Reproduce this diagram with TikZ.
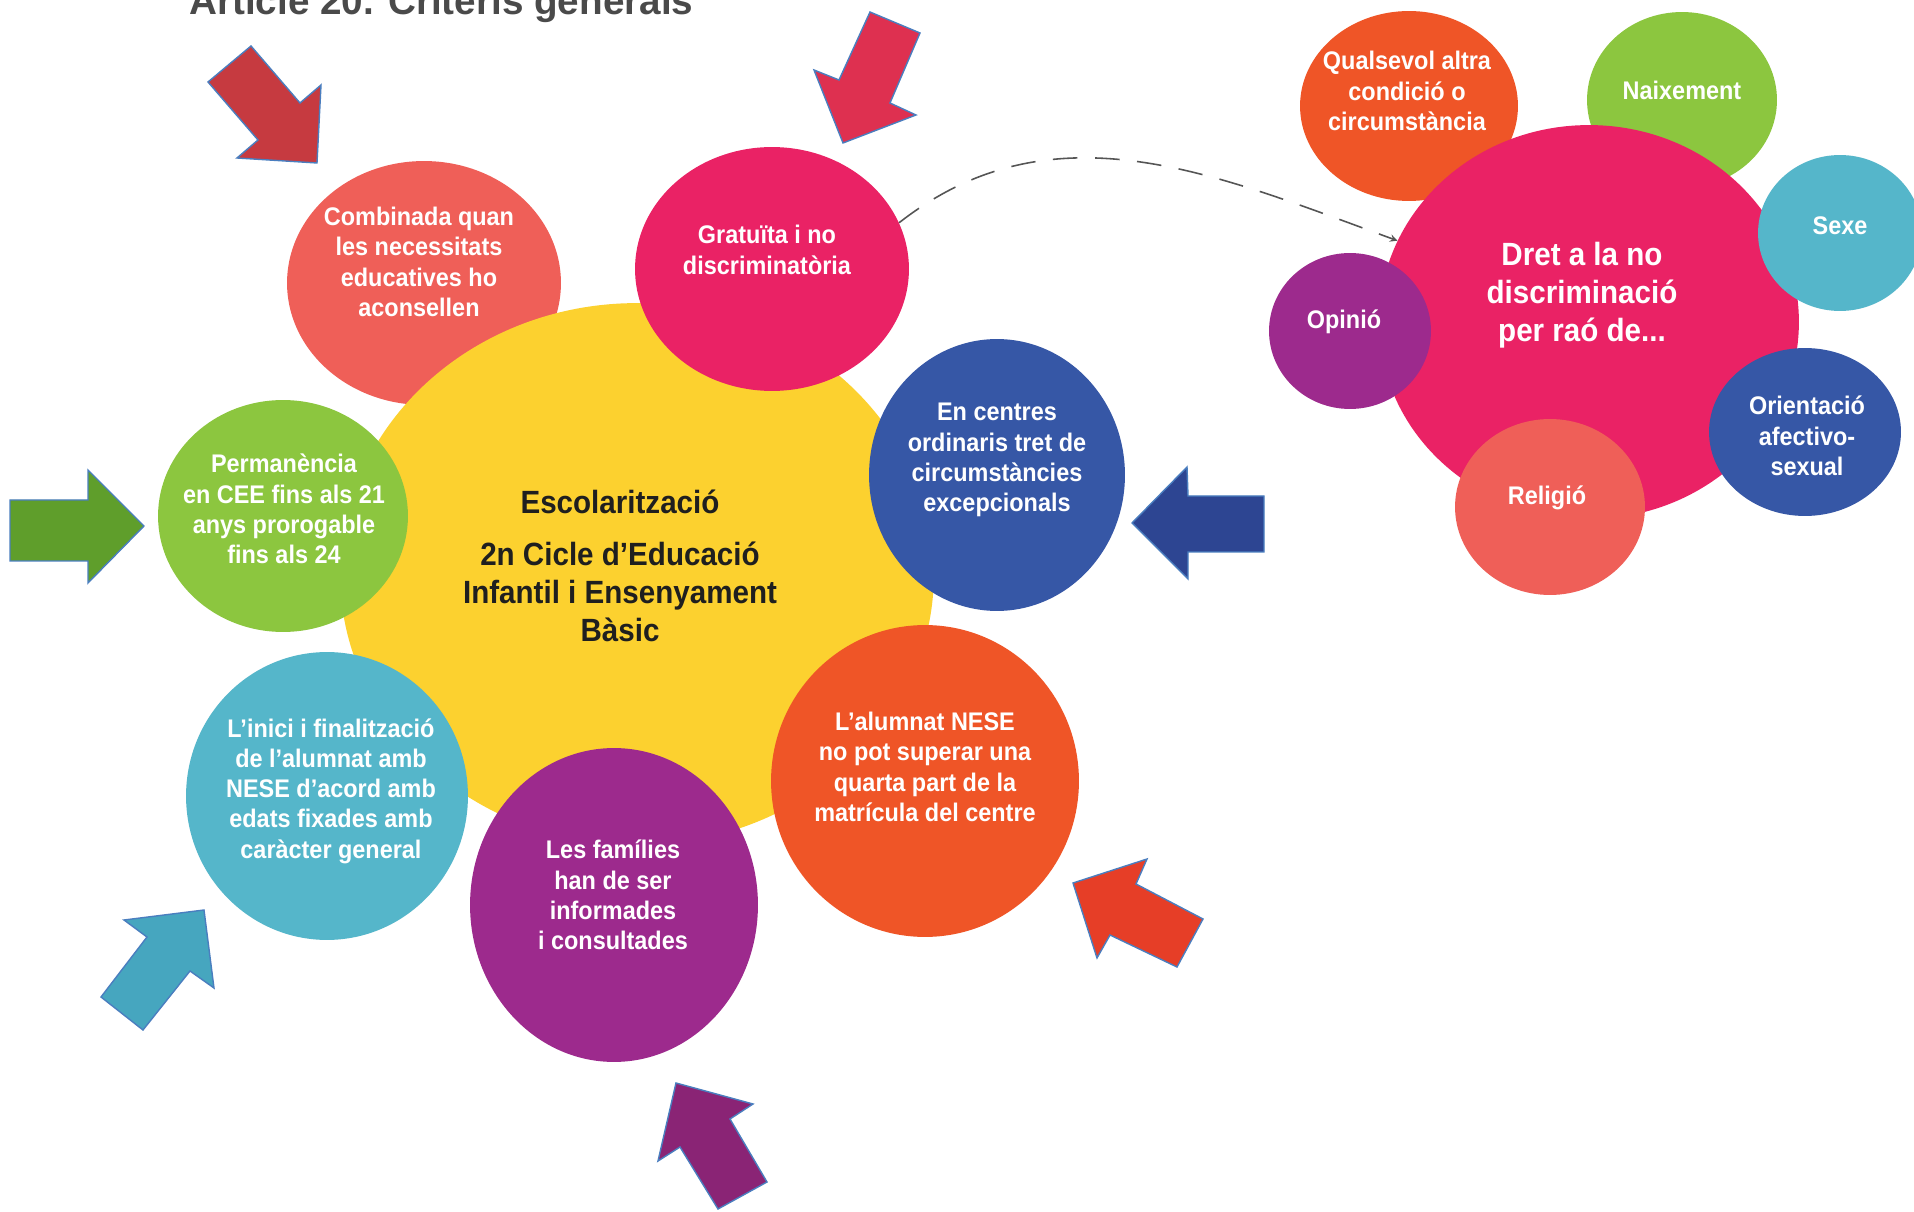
\documentclass[tikz,border=0pt]{standalone}
\usepackage{fontspec}
\setmainfont{Liberation Sans}[FakeStretch=0.92]
\newfontfamily\titlefont{Liberation Sans}
\usepackage{tikz}
\usetikzlibrary{arrows,shapes.geometric,positioning}

\definecolor{cyellow}{HTML}{FCD12F}
\definecolor{csalmon}{HTML}{EF5F58}
\definecolor{cpink}{HTML}{EA2265}
\definecolor{cblue}{HTML}{3657A6}
\definecolor{cgreen}{HTML}{8CC63F}
\definecolor{cteal}{HTML}{55B6CA}
\definecolor{cpurple}{HTML}{9D2A8D}
\definecolor{corange}{HTML}{EF5527}
\definecolor{ctitle}{HTML}{4A4A4A}
\definecolor{cdash}{HTML}{555555}
\definecolor{ared}{HTML}{C63A40}
\definecolor{arose}{HTML}{DE3050}
\definecolor{anavy}{HTML}{2D4592}
\definecolor{agreen}{HTML}{5F9E2B}
\definecolor{ateal}{HTML}{46A6BF}
\definecolor{aorange}{HTML}{E63E27}
\definecolor{aplum}{HTML}{8A2475}
\definecolor{aedge}{HTML}{4A7EBF}

\begin{document}
\begin{tikzpicture}[x=0.02cm,y=-0.02cm,
  blob/.style args={#1/#2/#3}{ellipse,fill=#1,inner sep=0pt,minimum width=#2*0.04cm,minimum height=#3*0.04cm},
  btext/.style={text=white,align=center,font=\bfseries\fontsize{14.5}{17.2}\selectfont},
  bigtext/.style={align=center,font=\bfseries\fontsize{18.3}{21.5}\selectfont},
  bigarrow/.style={fill=#1,draw=aedge,line width=0.8pt,line join=miter},
  dashlink/.style={draw=cdash,line width=0.9pt,dash pattern=on 14pt off 10pt}]

\useasboundingbox (0,0) rectangle (1914,1212);
\fill[white] (0,0) rectangle (1914,1212);

\node(title)[anchor=base west,text=ctitle,font=\titlefont\bfseries\fontsize{22}{26}\selectfont] at (183,15) {Article 20. Criteris generals};

\node(comb)[blob=csalmon/137/122] at (424,283) {};

\node(esc)[blob=cyellow/297/271] at (637,574) {};

\node(grat)[blob=cpink/137/122] at (772,269) {};

\node(cent)[blob=cblue/128/136] at (997,475) {};

\node(perm)[blob=cgreen/125/116] at (283,516) {};

\node(inici)[blob=cteal/141/144] at (327,796) {};

\node(fam)[blob=cpurple/144/157] at (614,905) {};

\node(nese)[blob=corange/154/156] at (925,781) {};

\node(comb-t)[btext] at (419,262) {Combinada quan\\les necessitats\\educatives ho\\aconsellen};
\node(esc-t)[bigtext,text=black!88] at (620,566) {Escolarització\\[8pt]2n Cicle d’Educació\\Infantil i Ensenyament\\Bàsic};
\node(grat-t)[btext] at (767,250) {Gratuïta i no\\discriminatòria};
\node(cent-t)[btext] at (997,460) {En centres\\ordinaris tret de\\circumstàncies\\excepcionals};
\node(perm-t)[btext] at (284,509) {Permanència\\en CEE fins als 21\\anys prorogable\\fins als 24};
\node(inici-t)[btext] at (331,791) {L’inici i finalització\\de l’alumnat amb\\NESE d’acord amb\\edats fixades amb\\caràcter general};
\node(fam-t)[btext] at (613,895) {Les famílies\\han de ser\\informades\\i consultades};
\node(nese-t)[btext] at (925,767) {L’alumnat NESE\\no pot superar una\\quarta part de la\\matrícula del centre};

\node(qual)[blob=corange/109/95] at (1409,106) {};

\node(naix)[blob=cgreen/95/88] at (1682,100) {};

\node(dret)[blob=cpink/210/197] at (1589,322) {};

\node(sexe)[blob=cteal/82/78] at (1840,233) {};

\node(opin)[blob=cpurple/81/78] at (1350,331) {};

\node(orie)[blob=cblue/96/84] at (1805,432) {};

\node(reli)[blob=csalmon/95/88] at (1550,507) {};

\node(dret-t)[bigtext,text=white] at (1582,295) {Dret a la no\\discriminació\\per raó de...};
\node(qual-t)[btext] at (1407,91) {Qualsevol altra\\condició o\\circumstància};
\node(naix-t)[btext] at (1682,90) {Naixement};
\node(sexe-t)[btext] at (1840,226) {Sexe};
\node(opin-t)[btext] at (1344,322) {Opinió};
\node(orie-t)[btext] at (1807,436) {Orientació\\afectivo-\\sexual};
\node(reli-t)[btext] at (1547,498) {Religió};

\draw [-stealth,dashlink] (grat.20) to [out=38,in=160] (dret.157);

\filldraw[bigarrow=ared] (251,46) -- (300,103) -- (321,85) -- (317,163) -- (237,158) -- (258,140) -- (208,82) -- cycle;
\filldraw[bigarrow=arose] (870,12) -- (920,33) -- (890,103) -- (916,115) -- (843,143) -- (814,70) -- (839,80) -- cycle;
\filldraw[bigarrow=agreen] (10,500) -- (88,500) -- (88,470) -- (144,526) -- (88,583) -- (88,561) -- (10,561) -- cycle;
\filldraw[bigarrow=anavy] (1132,523) -- (1187,467) -- (1188,496) -- (1264,496) -- (1264,552) -- (1188,552) -- (1188,579) -- cycle;
\filldraw[bigarrow=ateal] (204,910) -- (214,988) -- (190,971) -- (143,1030) -- (101,997) -- (147,937) -- (124,920) -- cycle;
\filldraw[bigarrow=aorange] (1073,883) -- (1147,859) -- (1136,884) -- (1203,919) -- (1177,967) -- (1110,935) -- (1097,958) -- cycle;
\filldraw[bigarrow=aplum] (676,1083) -- (753,1104) -- (730,1119) -- (767,1182) -- (718,1209) -- (680,1147) -- (658,1161) -- cycle;

\end{tikzpicture}
\end{document}
